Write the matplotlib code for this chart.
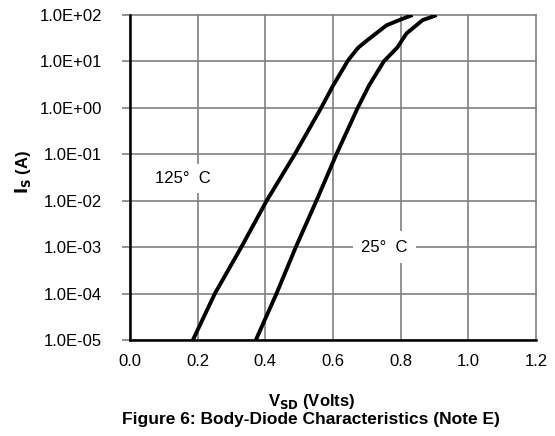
import matplotlib
matplotlib.use("Agg")
import matplotlib.pyplot as plt
from matplotlib.ticker import FixedLocator, FuncFormatter, NullLocator

plt.rcParams['font.family'] = ['Liberation Sans', 'DejaVu Sans']

# 125 C curve (V_SD in volts, I_S in amps)
v_125 = [0.186, 0.251, 0.329, 0.404, 0.487, 0.565, 0.60, 0.645, 0.675, 0.705, 0.758, 0.80, 0.835]
i_125 = [1e-5, 1e-4, 1e-3, 1e-2, 1e-1, 1, 3, 10.7, 20, 30, 60, 80, 100]

# 25 C curve
v_25 = [0.372, 0.433, 0.490, 0.551, 0.610, 0.673, 0.706, 0.75, 0.79, 0.817, 0.865, 0.89, 0.906]
i_25 = [1e-5, 1e-4, 1e-3, 1e-2, 1e-1, 1, 3, 10, 20, 40, 78, 90, 100]

x_ticks = [0.0, 0.2, 0.4, 0.6, 0.8, 1.0, 1.2]
y_ticks = [1e-5, 1e-4, 1e-3, 1e-2, 1e-1, 1e0, 1e1, 1e2]

fig = plt.figure(figsize=(5.55, 4.36), dpi=100)
ax = fig.add_axes([0.234, 0.22, 0.732, 0.7456])

ax.plot(v_125, i_125, color='black', lw=2.8, solid_capstyle='butt', zorder=3)
ax.plot(v_25, i_25, color='black', lw=2.8, solid_capstyle='butt', zorder=3)

ax.set_yscale('log')
ax.set_xlim(0, 1.2)
ax.set_ylim(1e-5, 1e2)
ax.xaxis.set_major_locator(FixedLocator(x_ticks))
ax.yaxis.set_major_locator(FixedLocator(y_ticks))
ax.yaxis.set_minor_locator(NullLocator())
ax.xaxis.set_major_formatter(FuncFormatter(lambda v, p: f"{v:.1f}"))
ax.yaxis.set_major_formatter(FuncFormatter(lambda v, p: f"{v:.1E}"))

ax.grid(True, color='#808080', lw=1.2, clip_on=False)
ax.set_axisbelow(True)
for s in ['top', 'right']:
    ax.spines[s].set_visible(False)
for s in ['left', 'bottom']:
    ax.spines[s].set_linewidth(1.8)
    ax.spines[s].set_zorder(4)

ax.tick_params(axis='y', length=6, width=1.2, color='#808080', labelsize=12, pad=14)
ax.tick_params(axis='x', length=0, labelsize=12, pad=10)

ax.text(0.156, 3e-2, "125°  C", fontsize=12, ha='center', va='center',
        bbox=dict(facecolor='white', edgecolor='none', pad=5), zorder=2)
ax.text(0.752, 1e-3, "25°  C", fontsize=12, ha='center', va='center',
        bbox=dict(facecolor='white', edgecolor='none', pad=6), zorder=2)

fig.text(0.042, 0.605, r"$\mathbf{I_S}$ (A)", fontsize=12, fontweight='bold',
         rotation=90, ha='center', va='center')
fig.text(0.562, 0.078, r"V$_{\mathbf{SD}}$ (Volts)", fontsize=12, fontweight='bold',
         ha='center', va='center')
fig.text(0.561, 0.037, "Figure 6: Body-Diode Characteristics (Note E)", fontsize=12.5,
         fontweight='bold', ha='center', va='center')

fig.savefig("out.png", dpi=100)
